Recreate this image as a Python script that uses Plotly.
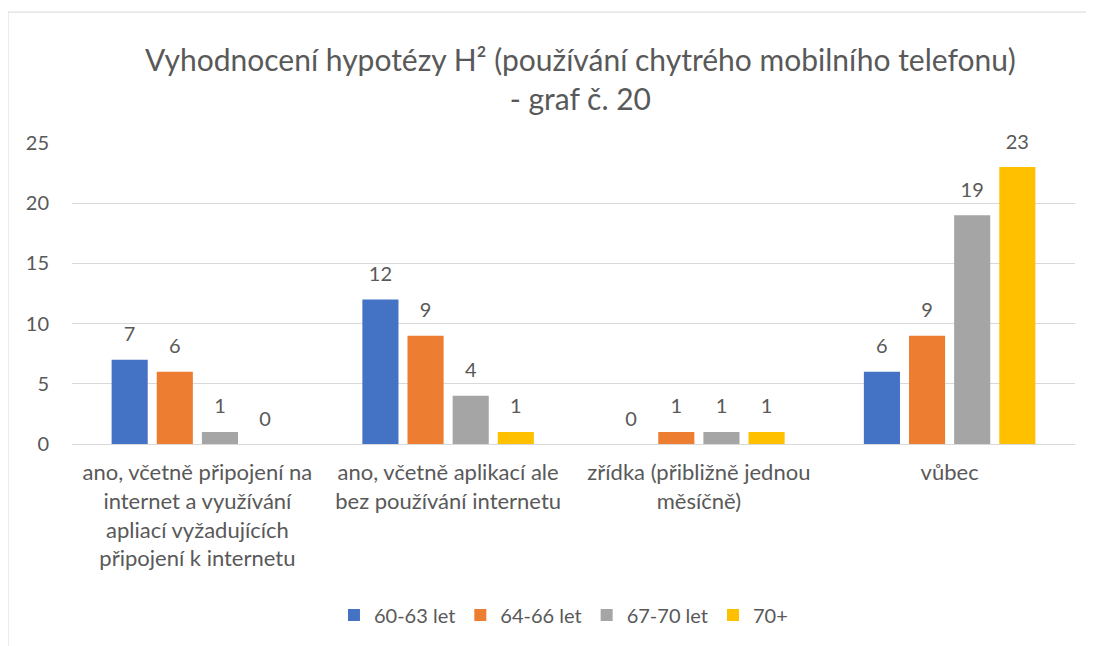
import plotly.graph_objects as go

categories = [
    "ano, včetně připojení na<br>internet a využívání<br>apliací vyžadujících<br>připojení k internetu",
    "ano, včetně aplikací ale<br>bez používání internetu",
    "zřídka (přibližně jednou<br>měsíčně)",
    "vůbec",
]
series_names = ["60-63 let", "64-66 let", "67-70 let", "70+"]
s1 = [7, 12, 0, 6]
s2 = [6, 9, 1, 9]
s3 = [1, 4, 1, 19]
s4 = [0, 1, 1, 23]
values = [s1, s2, s3, s4]
colors = ["#4472C4", "#ED7D31", "#A5A5A5", "#FFC000"]

FONT = "Lato, Carlito, Calibri, sans-serif"
GREY = "#595959"

fig = go.Figure()
for name, vals, col in zip(series_names, values, colors):
    fig.add_trace(go.Bar(
        x=categories, y=vals, name=name,
        marker=dict(color=col, line=dict(width=0)),
        offsetgroup=name, legendgroup=name,
    ))
for name, vals in zip(series_names, values):
    fig.add_trace(go.Scatter(
        x=categories, y=vals, name=name, mode="markers+text",
        text=[str(v) for v in vals], textposition="top center",
        textfont=dict(size=20, color=GREY, family=FONT),
        marker=dict(size=20, opacity=0),
        offsetgroup=name, legendgroup=name, showlegend=False,
        cliponaxis=False, hoverinfo="skip",
    ))

fig.update_layout(
    width=1086, height=638,
    paper_bgcolor="white", plot_bgcolor="white",
    margin=dict(l=64, r=19, t=135, b=202),
    barmode="group", bargap=0.28, bargroupgap=0.2,
    scattermode="group", scattergap=0.28,
    font=dict(family=FONT, color=GREY, size=20),
    title=dict(
        text="Vyhodnocení hypotézy H² (používání chytrého mobilního telefonu)<br>- graf č. 20",
        x=0.527, xanchor="center", y=0.902, yanchor="top",
        font=dict(size=30, color=GREY, family=FONT),
    ),
    legend=dict(
        orientation="h", x=0.49, xanchor="center", y=-0.568, yanchor="middle",
        font=dict(size=20, color=GREY, family=FONT),
        itemwidth=30, traceorder="normal",
    ),
    showlegend=True,
)
fig.update_yaxes(
    range=[0, 25], dtick=5, tick0=0,
    showgrid=True, gridcolor="#D9D9D9", gridwidth=1,
    zeroline=False, showline=False,
    ticks="", ticklabelstandoff=22,
    tickfont=dict(size=20, color=GREY, family=FONT),
)
fig.update_xaxes(
    showline=True, linecolor="#D9D9D9", linewidth=1,
    ticks="", ticklabelstandoff=9,
    tickfont=dict(size=22, color=GREY, family=FONT),
    tickangle=0,
)
fig.add_shape(
    type="rect", xref="paper", yref="paper",
    x0=-0.0638, x1=1.2, y0=-0.8, y1=1.435,
    line=dict(color="#D9D9D9", width=1), fillcolor="rgba(0,0,0,0)",
    layer="below",
)
fig.write_html("out.html")
